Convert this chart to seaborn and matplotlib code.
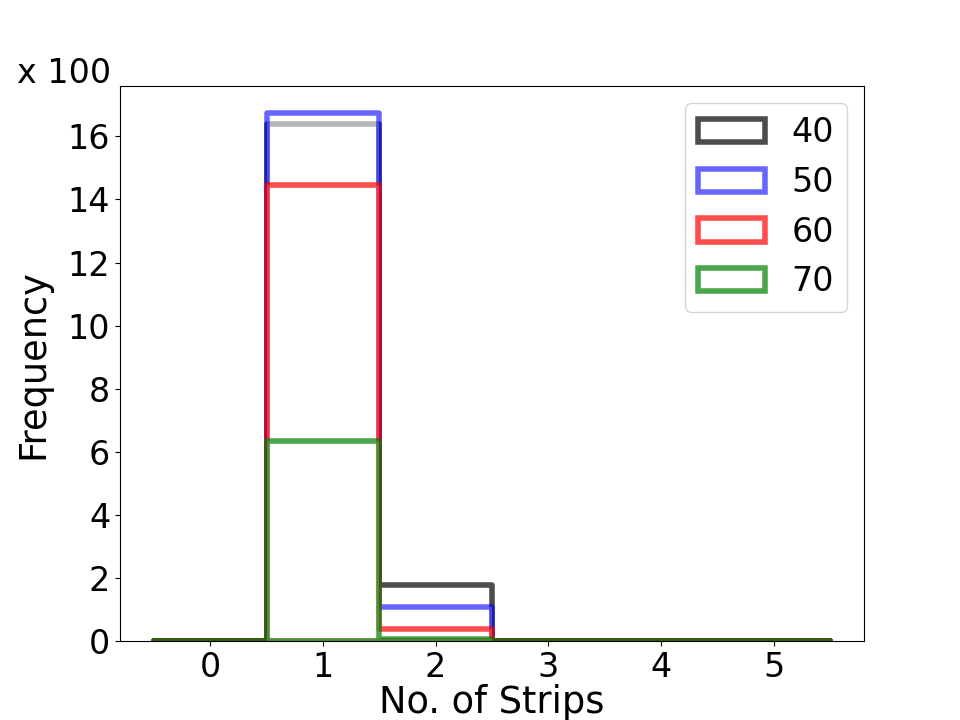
import numpy as np
import pandas as pd
import matplotlib
matplotlib.use("Agg")
import matplotlib.pyplot as plt
import seaborn as sns

# Number of strips (bin centres) and frequencies (in units of 100)
strips = [0, 1, 2, 3, 4, 5]
labels = ["40", "50", "60", "70"]
freq_40 = [0, 16.41, 1.78, 0, 0, 0]
freq_50 = [0, 16.75, 1.06, 0, 0, 0]
freq_60 = [0, 14.47, 0.39, 0, 0, 0]
freq_70 = [0, 6.33, 0.05, 0, 0, 0]
colors = ["black", "blue", "red", "green"]
alphas = [0.7, 0.6, 0.7, 0.7]

plt.rcParams["font.family"] = ["DejaVu Sans"]
plt.rcParams["font.size"] = 24

fig, ax = plt.subplots(figsize=(9.6, 7.2), dpi=100)

for lab, vals, col, a in zip(labels, [freq_40, freq_50, freq_60, freq_70], colors, alphas):
    df = pd.DataFrame({"strips": strips, "freq": vals})
    sns.histplot(data=df, x="strips", weights="freq", discrete=True, element="step",
                 fill=True, ax=ax, label=lab,
                 facecolor=(1, 1, 1, 0.6),
                 edgecolor=matplotlib.colors.to_rgba(col, a),
                 linewidth=4)

ax.set_xticks(strips)
ax.set_xlabel("No. of Strips", fontsize=26.5, labelpad=0)
ax.set_ylabel("Frequency", fontsize=26.5, labelpad=12)
ax.tick_params(labelsize=24)
ax.set_yticks(np.arange(0, 17, 2))
ax.legend(loc="upper right", fontsize=24)
fig.text(17 / 960, 1 - 83 / 720, "x 100", fontsize=24)

fig.savefig("out.png", dpi=100)
